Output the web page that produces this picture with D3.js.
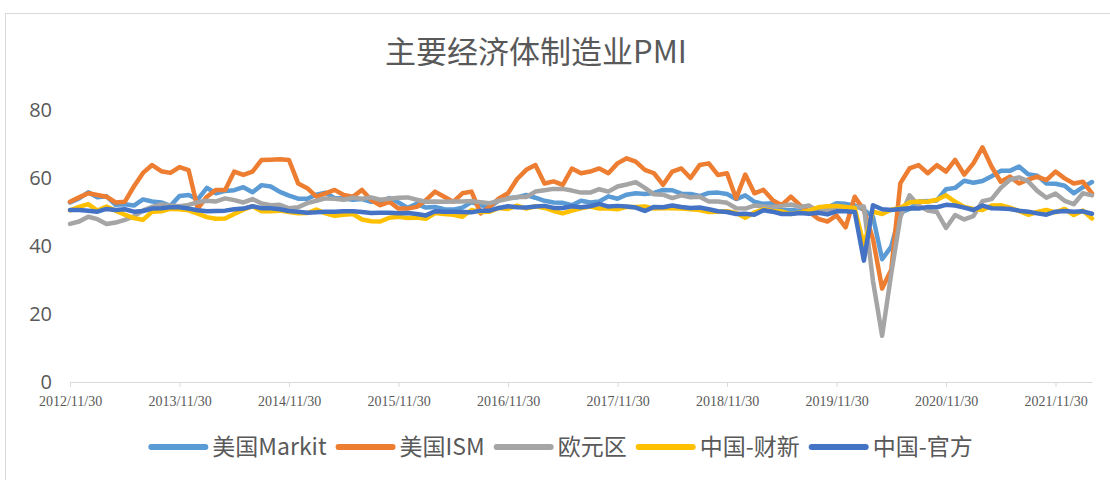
<!DOCTYPE html>
<html>
<head>
<meta charset="utf-8">
<title>主要经济体制造业PMI</title>
<script src="https://d3js.org/d3.v7.min.js"></script>
<style>
  body { margin: 0; padding: 0; background: #fff; }
</style>
</head>
<body>
<div id="my_dataviz"></div>
<script>

// monthly, 2012/11 .. 2022/03
var tickLabels = ["2012/11/30", "2013/11/30", "2014/11/30", "2015/11/30", "2016/11/30",
                  "2017/11/30", "2018/11/30", "2019/11/30", "2020/11/30", "2021/11/30"];
var yTicks = [0, 20, 40, 60, 80];

var usMarkit = [
  52.8, 54.0,
  55.8, 54.3, 54.6, 52.1, 52.3, 51.9, 53.7, 53.1, 52.8, 51.8, 54.7, 55.0,
  53.7, 57.1, 55.5, 56.2, 56.4, 57.3, 55.8, 57.9, 57.5, 55.9, 54.8, 53.9,
  53.9, 55.1, 55.7, 54.1, 54.0, 53.6, 53.8, 53.0, 53.1, 54.1, 52.8, 51.2,
  52.4, 51.3, 51.5, 50.8, 50.7, 51.3, 52.9, 52.0, 51.5, 53.4, 54.1, 54.3,
  55.0, 54.2, 53.3, 52.8, 52.7, 52.0, 53.3, 52.8, 53.1, 54.6, 53.9, 55.1,
  55.5, 55.3, 55.6, 56.5, 56.4, 55.4, 55.3, 54.7, 55.6, 55.7, 55.3, 53.8,
  54.9, 53.0, 52.4, 52.6, 50.5, 50.6, 50.4, 50.3, 51.1, 51.3, 52.6, 52.4,
  51.9, 50.7, 48.5, 36.1, 39.8, 49.8, 50.9, 53.1, 53.2, 53.4, 56.7, 57.1,
  59.2, 58.6, 59.1, 60.5, 62.1, 62.1, 63.4, 61.1, 60.7, 58.4, 58.3, 57.7,
  55.5, 57.3, 58.8
];

var usISM = [
  53.0, 54.3,
  55.5, 55.0, 54.5, 52.8, 53.0, 57.5, 61.5, 63.8, 62.0, 61.5, 63.2, 62.3,
  51.0, 54.5, 56.5, 56.5, 61.9, 60.9, 61.9, 65.3, 65.4, 65.5, 65.3, 58.4,
  57.0, 54.5, 55.5, 56.5, 55.0, 54.5, 56.5, 53.5, 52.0, 53.0, 51.0, 51.0,
  51.5, 53.5, 56.0, 54.5, 53.0, 55.5, 56.0, 49.6, 51.6, 54.0, 55.5, 59.7,
  62.4, 63.8, 58.4, 59.0, 58.0, 62.8, 61.4, 61.9, 62.8, 61.4, 64.3, 65.8,
  64.8, 62.4, 61.4, 58.0, 61.9, 62.8, 60.0, 63.8, 64.3, 60.9, 61.4, 54.0,
  61.0, 55.5, 56.5, 53.5, 52.0, 54.5, 52.0, 50.0, 48.0, 47.2, 49.0, 45.5,
  54.5, 50.6, 42.0, 27.5, 33.0, 58.5, 62.8, 63.8, 61.4, 63.8, 61.9, 65.3,
  61.0, 64.3, 69.0, 63.3, 58.9, 60.4, 58.4, 59.5, 60.4, 59.4, 61.9, 59.9,
  58.4, 58.9, 55.5
];

var euroZone = [
  46.5, 47.2,
  48.6, 47.9, 46.5, 46.9, 47.7, 48.7, 50.5, 51.5, 52.2, 51.9, 51.7, 52.1,
  52.9, 53.3, 53.1, 54.0, 53.5, 52.8, 53.8, 52.5, 52.0, 52.1, 51.1, 51.4,
  52.6, 53.3, 54.0, 53.9, 53.6, 54.2, 53.9, 54.3, 53.6, 53.9, 54.2, 54.3,
  53.6, 53.0, 53.1, 53.0, 53.1, 53.1, 53.2, 52.9, 52.6, 53.3, 53.9, 54.4,
  54.4, 56.0, 56.4, 56.8, 56.8, 56.3, 55.7, 55.7, 56.7, 56.0, 57.5, 58.1,
  58.8, 57.1, 55.2, 55.1, 54.1, 54.9, 54.3, 54.5, 53.1, 53.1, 52.7, 51.1,
  51.0, 51.9, 51.6, 51.5, 51.8, 52.2, 51.5, 51.9, 50.1, 50.6, 50.6, 50.9,
  51.3, 51.6, 29.7, 13.6, 31.9, 48.5, 54.9, 51.9, 50.4, 50.0, 45.3, 49.1,
  47.8, 48.8, 53.2, 53.8, 57.1, 59.5, 60.2, 59.0, 56.2, 54.2, 55.4, 53.3,
  52.3, 55.5, 54.9
];

var chinaCaixin = [
  50.5, 51.5,
  52.3, 50.4, 51.6, 50.4, 49.2, 48.2, 47.7, 50.1, 50.2, 50.9, 50.8, 50.5,
  49.5, 48.5, 48.0, 48.1, 49.4, 50.7, 51.7, 50.2, 50.2, 50.4, 50.0, 49.6,
  49.7, 50.7, 49.6, 48.9, 49.2, 49.4, 47.8, 47.3, 47.2, 48.3, 48.6, 48.2,
  48.4, 48.0, 49.7, 49.4, 49.2, 48.6, 50.6, 50.0, 50.1, 51.2, 50.9, 51.9,
  51.0, 51.7, 51.2, 50.3, 49.6, 50.4, 51.1, 51.6, 51.0, 51.0, 50.8, 51.5,
  51.5, 51.6, 51.0, 51.1, 51.1, 51.0, 50.8, 50.6, 50.0, 50.1, 50.2, 49.7,
  48.3, 49.9, 50.8, 50.2, 50.2, 49.4, 49.9, 50.4, 51.4, 51.7, 51.8, 51.5,
  51.1, 40.3, 50.1, 49.4, 50.7, 51.2, 52.8, 53.1, 53.0, 53.6, 54.9, 53.0,
  51.5, 50.9, 50.6, 51.9, 52.0, 51.3, 50.3, 49.2, 50.0, 50.6, 49.9, 50.9,
  49.1, 50.4, 48.1
];

var chinaOfficial = [
  50.6, 50.6,
  50.4, 50.1, 50.9, 50.6, 50.8, 50.1, 50.3, 51.0, 51.1, 51.4, 51.4, 51.0,
  50.5, 50.2, 50.3, 50.4, 50.8, 51.0, 51.7, 51.1, 51.1, 50.8, 50.3, 50.1,
  49.8, 49.9, 50.1, 50.1, 50.2, 50.2, 50.0, 49.7, 49.8, 49.8, 49.6, 49.7,
  49.4, 49.0, 50.2, 50.1, 50.1, 50.0, 49.9, 50.4, 50.4, 51.2, 51.7, 51.4,
  51.3, 51.6, 51.8, 51.2, 51.2, 51.7, 51.4, 51.7, 52.4, 51.6, 51.8, 51.6,
  51.3, 50.3, 51.5, 51.4, 51.9, 51.5, 51.2, 51.3, 50.8, 50.2, 50.0, 49.4,
  49.5, 49.2, 50.5, 50.1, 49.4, 49.4, 49.7, 49.5, 49.8, 49.3, 50.2, 50.2,
  50.0, 35.7, 52.0, 50.8, 50.6, 50.9, 51.1, 51.0, 51.5, 51.4, 52.1, 51.9,
  51.3, 50.6, 51.9, 51.1, 51.0, 50.9, 50.4, 50.1, 49.6, 49.2, 50.1, 50.3,
  50.1, 50.2, 49.5
];

var seriesNames = ["美国Markit", "美国ISM", "欧元区", "中国-财新", "中国-官方"];
var seriesColors = ["#5B9BD5", "#ED7D31", "#A5A5A5", "#FFC000", "#4472C4"];
var seriesValues = [usMarkit, usISM, euroZone, chinaCaixin, chinaOfficial];

var width = 1110, height = 480;
var greyText = "#595959";

var svg = d3.select("#my_dataviz")
  .append("svg")
    .attr("width", width)
    .attr("height", height)
    .style("display", "block");

// chart frame
svg.append("rect")
  .attr("x", 5.5).attr("y", 13.5)
  .attr("width", 1120).attr("height", 500)
  .attr("fill", "#fff")
  .attr("stroke", "#d9d9d9");

svg.append("text")
  .attr("x", 536)
  .attr("y", 63)
  .attr("text-anchor", "middle")
  .style("font-family", "'Noto Sans CJK SC', sans-serif")
  .style("font-size", "31px")
  .style("fill", greyText)
  .text("主要经济体制造业PMI");

var n = usMarkit.length;
var x = d3.scaleLinear()
  .domain([0, n - 1])
  .range([70, 1092]);
var y = d3.scaleLinear()
  .domain([0, 80])
  .range([382, 110]);

// y labels (no axis line, no grid)
svg.append("g")
  .selectAll("text")
  .data(yTicks)
  .enter()
  .append("text")
    .attr("x", 52)
    .attr("y", function(d) { return y(d); })
    .attr("dy", "0.33em")
    .attr("text-anchor", "end")
    .style("font-family", "'Open Sans', sans-serif")
    .style("font-size", "20px")
    .style("fill", greyText)
    .text(function(d) { return d; });

// x axis with a tick every 12 months
var xAxis = d3.axisBottom(x)
  .tickValues(tickLabels.map(function(d, i) { return i * 12; }))
  .tickFormat(function(d, i) { return tickLabels[i]; })
  .tickSize(5)
  .tickSizeOuter(0);

var gx = svg.append("g")
  .attr("transform", "translate(0,382)")
  .call(xAxis);
gx.select(".domain").attr("stroke", "#d9d9d9");
gx.selectAll(".tick line").attr("stroke", "#d9d9d9");
gx.selectAll(".tick text")
  .attr("y", 14)
  .style("font-family", "'Liberation Serif', serif")
  .style("font-size", "14px")
  .style("fill", greyText);

// lines
var line = d3.line()
  .x(function(d, i) { return x(i); })
  .y(function(d) { return y(d); });

svg.append("g")
  .selectAll("path")
  .data(seriesValues)
  .enter()
  .append("path")
    .attr("d", function(d) { return line(d); })
    .attr("fill", "none")
    .attr("stroke", function(d, i) { return seriesColors[i]; })
    .attr("stroke-width", 4.5)
    .attr("stroke-linejoin", "round")
    .attr("stroke-linecap", "round");

// legend
var legend = svg.append("g").attr("transform", "translate(0,447)");
var items = legend.selectAll("g")
  .data(seriesNames)
  .enter()
  .append("g");
items.append("line")
  .attr("x1", 3).attr("x2", 57)
  .attr("stroke", function(d, i) { return seriesColors[i]; })
  .attr("stroke-width", 6)
  .attr("stroke-linecap", "round");
items.append("text")
  .attr("x", 64)
  .attr("dy", "0.35em")
  .style("font-family", "'Noto Sans CJK SC', sans-serif")
  .style("font-size", "23px")
  .style("fill", greyText)
  .text(function(d) { return d; });

var pos = [], total = 0;
items.each(function() {
  var w = 64 + d3.select(this).select("text").node().getComputedTextLength() + 9;
  pos.push(total);
  total += w;
});
var start = 565 - total / 2;
items.attr("transform", function(d, i) { return "translate(" + (start + pos[i]) + ",0)"; });

</script>
</body>
</html>
